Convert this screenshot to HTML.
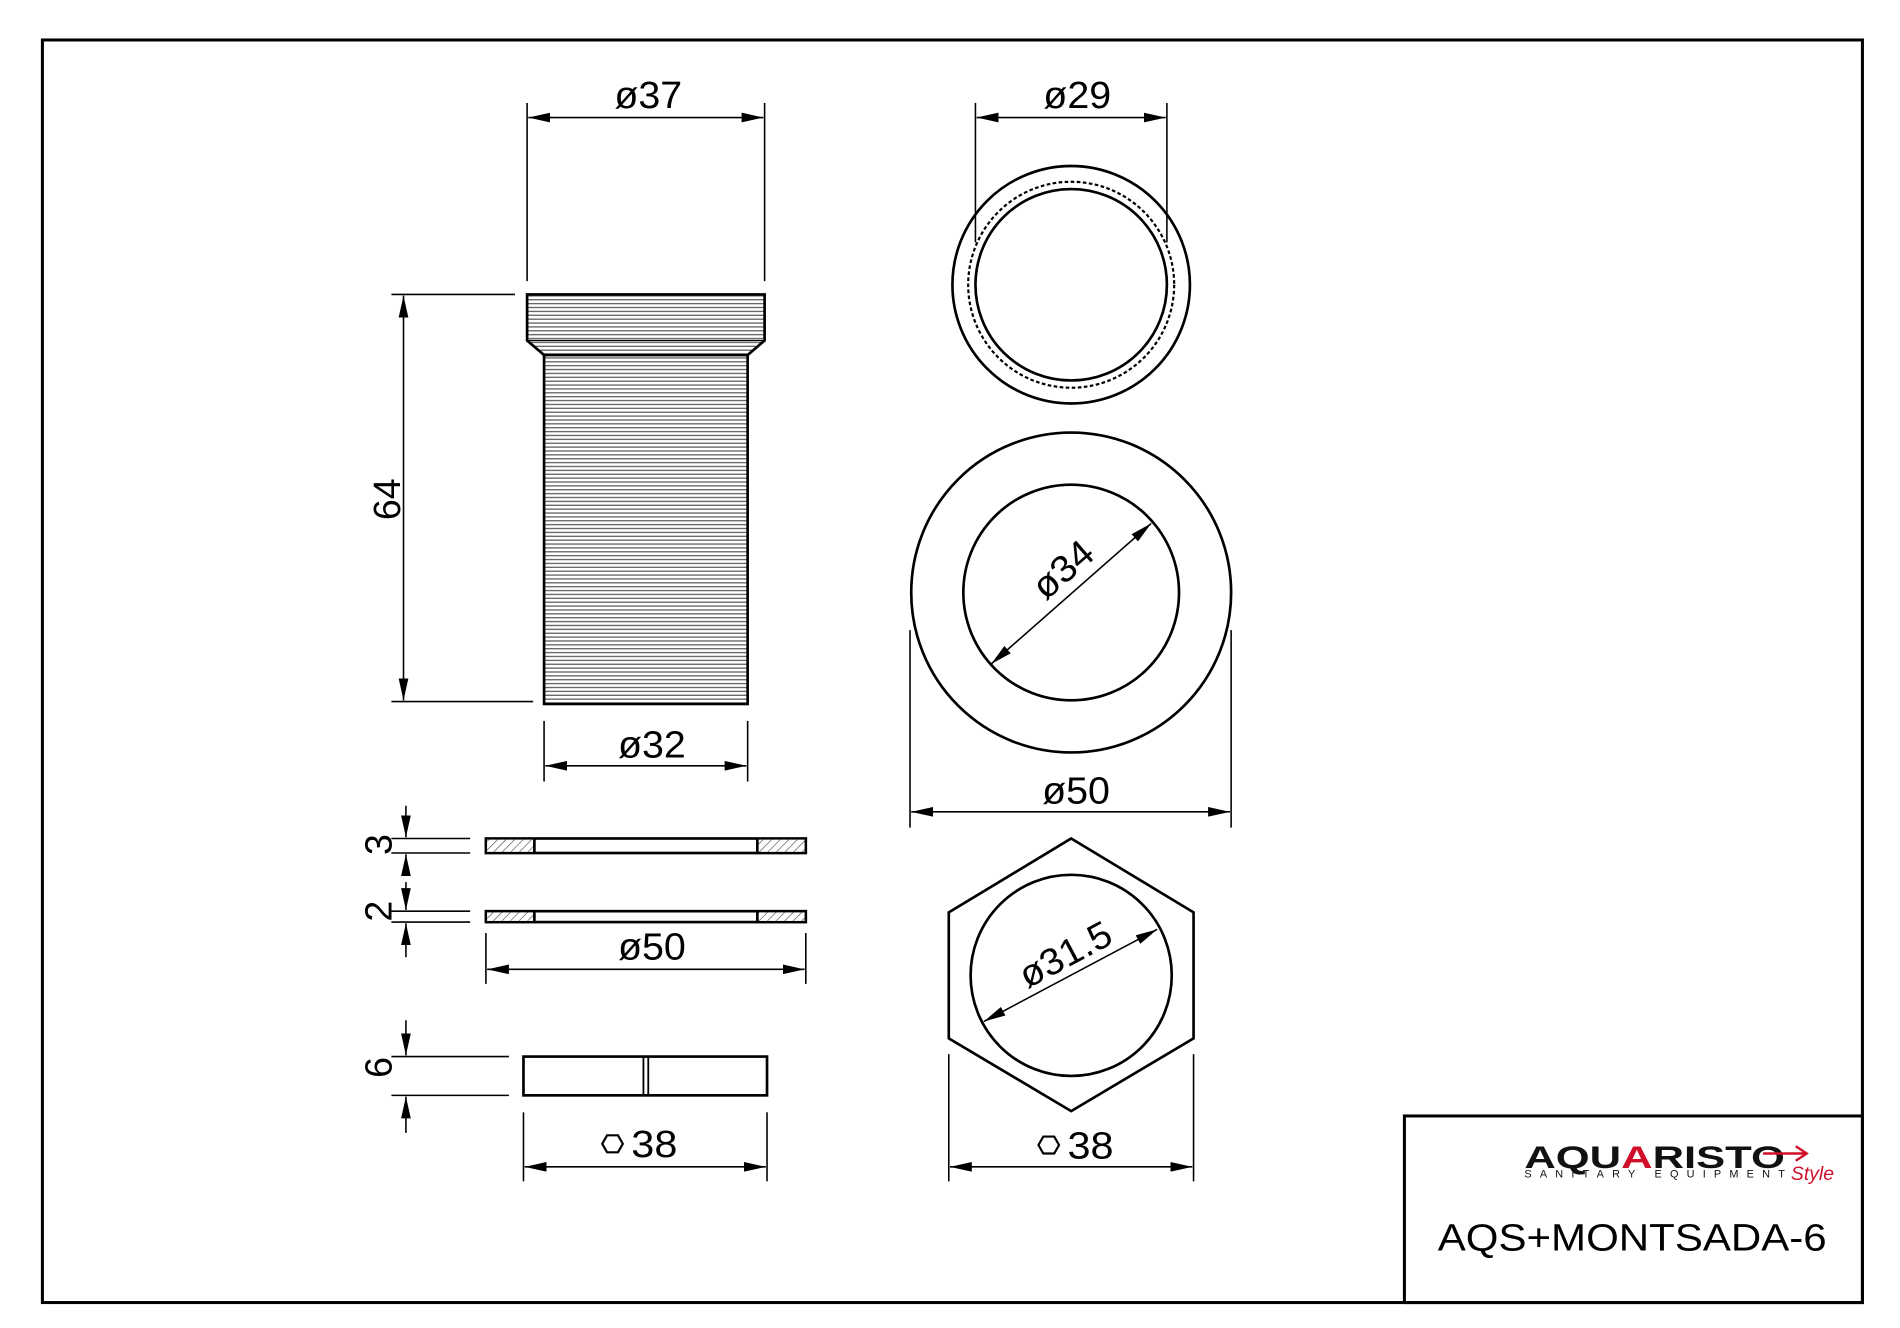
<!DOCTYPE html>
<html><head><meta charset="utf-8"><style>html,body{margin:0;padding:0;background:#fff}svg{display:block}</style></head>
<body>
<svg width="1900" height="1328" viewBox="0 0 1568 1096" preserveAspectRatio="none" xmlns="http://www.w3.org/2000/svg" font-family="Liberation Sans, sans-serif">
<defs>
<pattern id="hl" width="10" height="3.2" patternUnits="userSpaceOnUse"><rect width="10" height="3.2" fill="#fff"/><line x1="0" y1="1" x2="10" y2="1" stroke="#555" stroke-width="1"/></pattern>
<pattern id="dg" width="5" height="5" patternUnits="userSpaceOnUse" patternTransform="rotate(45)"><rect width="5" height="5" fill="#fff"/><line x1="0" y1="0" x2="0" y2="5" stroke="#444" stroke-width="1"/></pattern>
<marker id="a" viewBox="0 0 18 8" refX="18" refY="4" markerWidth="18" markerHeight="8" markerUnits="userSpaceOnUse" orient="auto-start-reverse"><path d="M0,0L18,4L0,8Z" fill="#000"/></marker>
</defs>
<rect x="35" y="33" width="1502" height="1042" fill="none" stroke="#000" stroke-width="2.5"/>
<rect x="1159" y="921" width="378" height="154" fill="none" stroke="#000" stroke-width="2.5"/>
<g fill="none" stroke="#000" stroke-width="1.3">
<line x1="435" y1="85" x2="435" y2="232"/><line x1="631" y1="85" x2="631" y2="232"/>
<line x1="436" y1="97" x2="630" y2="97" marker-start="url(#a)" marker-end="url(#a)"/>
<line x1="323" y1="243" x2="425" y2="243"/><line x1="323" y1="579" x2="440" y2="579"/>
<line x1="333" y1="244" x2="333" y2="578" marker-start="url(#a)" marker-end="url(#a)"/>
<line x1="449" y1="595" x2="449" y2="645"/><line x1="617" y1="595" x2="617" y2="645"/>
<line x1="450" y1="632" x2="616" y2="632" marker-start="url(#a)" marker-end="url(#a)"/>
<line x1="805" y1="85" x2="805" y2="200"/><line x1="963" y1="85" x2="963" y2="200"/>
<line x1="806" y1="97" x2="962" y2="97" marker-start="url(#a)" marker-end="url(#a)"/>
<line x1="751" y1="520" x2="751" y2="683"/><line x1="1016" y1="520" x2="1016" y2="683"/>
<line x1="752" y1="670" x2="1015" y2="670" marker-start="url(#a)" marker-end="url(#a)"/>
<line x1="818" y1="548" x2="950" y2="432" marker-start="url(#a)" marker-end="url(#a)"/>
<line x1="323" y1="692" x2="388" y2="692"/><line x1="323" y1="704" x2="388" y2="704"/>
<line x1="335" y1="665" x2="335" y2="691" marker-end="url(#a)"/><line x1="335" y1="722" x2="335" y2="705" marker-end="url(#a)"/>
<line x1="323" y1="752" x2="388" y2="752"/><line x1="323" y1="761" x2="388" y2="761"/>
<line x1="335" y1="728" x2="335" y2="751" marker-end="url(#a)"/><line x1="335" y1="790" x2="335" y2="762" marker-end="url(#a)"/>
<line x1="401" y1="770" x2="401" y2="812"/><line x1="665" y1="770" x2="665" y2="812"/>
<line x1="402" y1="800" x2="664" y2="800" marker-start="url(#a)" marker-end="url(#a)"/>
<line x1="323" y1="872" x2="420" y2="872"/><line x1="323" y1="904" x2="420" y2="904"/>
<line x1="335" y1="842" x2="335" y2="871" marker-end="url(#a)"/><line x1="335" y1="935" x2="335" y2="905" marker-end="url(#a)"/>
<line x1="432" y1="918" x2="432" y2="975"/><line x1="633" y1="918" x2="633" y2="975"/>
<line x1="433" y1="963" x2="632" y2="963" marker-start="url(#a)" marker-end="url(#a)"/>
<line x1="783" y1="870" x2="783" y2="975"/><line x1="985" y1="870" x2="985" y2="975"/>
<line x1="784" y1="963" x2="984" y2="963" marker-start="url(#a)" marker-end="url(#a)"/>
<line x1="812" y1="843" x2="955" y2="767" marker-start="url(#a)" marker-end="url(#a)"/>
</g>
<g stroke="#000" stroke-width="2.2">
<path d="M435,243H631V281L617,293H449L435,281Z" fill="url(#hl)"/>
<line x1="435" y1="281" x2="631" y2="281" stroke-width="1"/>
<rect x="449" y="293" width="168" height="288" fill="url(#hl)"/>
<circle cx="884" cy="235" r="98" fill="none"/>
<circle cx="884" cy="235" r="79" fill="none"/>
<circle cx="884" cy="235" r="85" fill="none" stroke-width="1.8" stroke-dasharray="3,2"/>
<circle cx="884" cy="489" r="132" fill="none"/>
<circle cx="884" cy="489" r="89" fill="none"/>
<rect x="401" y="692" width="264" height="12" fill="#fff"/>
<rect x="402" y="693" width="39" height="10" fill="url(#dg)" stroke="none"/><rect x="625" y="693" width="39" height="10" fill="url(#dg)" stroke="none"/>
<line x1="441" y1="692" x2="441" y2="704"/><line x1="625" y1="692" x2="625" y2="704"/>
<rect x="401" y="752" width="264" height="9" fill="#fff"/>
<rect x="402" y="753" width="39" height="7" fill="url(#dg)" stroke="none"/><rect x="625" y="753" width="39" height="7" fill="url(#dg)" stroke="none"/>
<line x1="441" y1="752" x2="441" y2="761"/><line x1="625" y1="752" x2="625" y2="761"/>
<rect x="432" y="872" width="201" height="32" fill="#fff"/>
<line x1="531" y1="872" x2="531" y2="904" stroke-width="1.5"/><line x1="535" y1="872" x2="535" y2="904" stroke-width="1.5"/>
<path d="M884,692L985,753V857L884,917L783,857V753Z" fill="none"/>
<circle cx="884" cy="805" r="83" fill="none"/>
</g>
<g font-size="31" fill="#000" text-anchor="middle">
<text x="535" y="89" textLength="56" lengthAdjust="spacingAndGlyphs">ø37</text>
<text x="889" y="89" textLength="56" lengthAdjust="spacingAndGlyphs">ø29</text>
<text x="538" y="625" textLength="56" lengthAdjust="spacingAndGlyphs">ø32</text>
<text x="888" y="663" textLength="56" lengthAdjust="spacingAndGlyphs">ø50</text>
<text x="538" y="792" textLength="56" lengthAdjust="spacingAndGlyphs">ø50</text>
<text transform="translate(330,412) rotate(-90)">64</text>
<text transform="translate(323,697) rotate(-90)">3</text>
<text transform="translate(323,752) rotate(-90)">2</text>
<text transform="translate(323,881) rotate(-90)">6</text>
<text transform="translate(884,478) rotate(-41)" textLength="56" lengthAdjust="spacingAndGlyphs">ø34</text>
<text transform="translate(884,797) rotate(-28)" textLength="82" lengthAdjust="spacingAndGlyphs">ø31.5</text>
<text x="540" y="955" textLength="38" lengthAdjust="spacingAndGlyphs">38</text>
<text x="900" y="956" textLength="38" lengthAdjust="spacingAndGlyphs">38</text>
<text x="1347" y="1032" font-size="31" textLength="321" lengthAdjust="spacingAndGlyphs">AQS+MONTSADA-6</text>
</g>
<path d="M497,944l4,-7h9l4,7l-4,7h-9z M857,945l4,-7h9l4,7l-4,7h-9z" fill="none" stroke="#000" stroke-width="1.8"/>
<g>
<text x="1258" y="964" font-size="26" font-weight="bold" fill="#111" textLength="215" lengthAdjust="spacingAndGlyphs">AQU<tspan fill="#d0102a">A</tspan>RISTO</text>
<text x="1258" y="972" font-size="9" fill="#111" textLength="215" lengthAdjust="spacing">SANITARY EQUIPMENT</text>
<text x="1478" y="974" font-size="16" font-style="italic" fill="#d0102a">Style</text>
<path d="M1455,952h35M1482,946l9,6-9,6" fill="none" stroke="#d0102a" stroke-width="2"/>
</g>
</svg>
</body></html>
